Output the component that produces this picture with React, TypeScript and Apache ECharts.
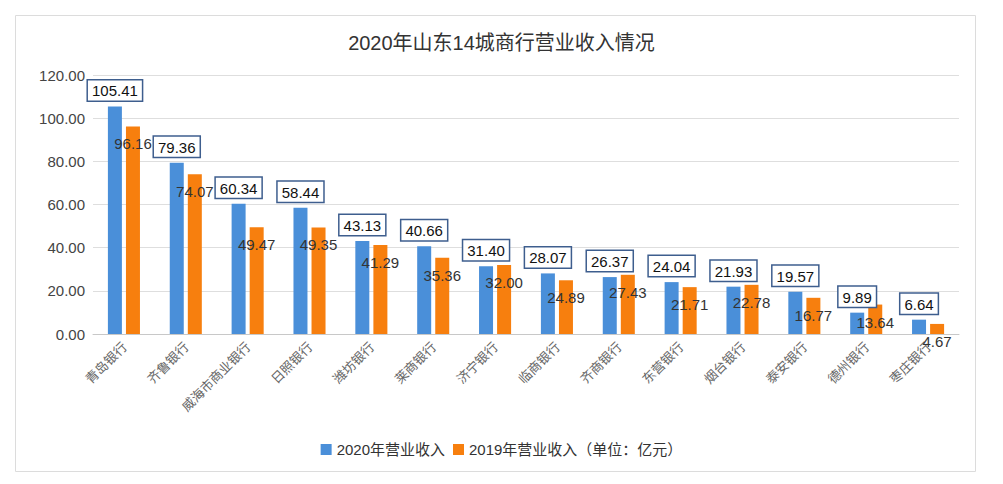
import React, { useEffect, useRef } from "react";
import * as echarts from "echarts";

const categories = [
  "青岛银行", "齐鲁银行", "威海市商业银行", "日照银行", "潍坊银行", "莱商银行", "济宁银行",
  "临商银行", "齐商银行", "东营银行", "烟台银行", "泰安银行", "德州银行", "枣庄银行",
];
const revenue2020 = [105.41, 79.36, 60.34, 58.44, 43.13, 40.66, 31.4, 28.07, 26.37, 24.04, 21.93, 19.57, 9.89, 6.64];
const revenue2019 = [96.16, 74.07, 49.47, 49.35, 41.29, 35.36, 32.0, 24.89, 27.43, 21.71, 22.78, 16.77, 13.64, 4.67];
const yTicks = { min: 0, max: 120, interval: 20 };

const FONT = "'Noto Sans CJK SC', 'Noto Sans', sans-serif";
const NUM = "'Liberation Sans', Arial, sans-serif";

export default function App() {
  const ref = useRef<HTMLDivElement>(null);
  useEffect(() => {
    const chart = echarts.init(ref.current!, null, { renderer: "svg" });
    chart.setOption({
      animation: false,
      backgroundColor: "#ffffff",
      textStyle: { fontFamily: FONT },
      title: {
        text: "2020年山东14城商行营业收入情况",
        left: "center",
        top: 28,
        textStyle: { fontSize: 20, fontWeight: "normal", color: "#333", fontFamily: "'Liberation Sans', 'Noto Sans CJK SC', sans-serif" },
      },
      graphic: [
        {
          type: "rect",
          shape: { x: 15.5, y: 15.5, width: 960, height: 456 },
          style: { fill: "none", stroke: "#dcdcdc", lineWidth: 1 },
          silent: true,
        },
      ],
      legend: {
        bottom: 22,
        left: "center",
        itemWidth: 11,
        itemHeight: 11,
        itemGap: 8,
        icon: "rect",
        textStyle: { fontSize: 15, color: "#333", fontFamily: "'Liberation Sans', 'Noto Sans CJK SC', sans-serif" },
        data: ["2020年营业收入", "2019年营业收入（单位：亿元）"],
      },
      grid: { left: 93, right: 44, top: 75, bottom: 150 },
      xAxis: {
        type: "category",
        data: categories,
        axisTick: { show: false },
        axisLine: { lineStyle: { color: "#c8c8c8" } },
        axisLabel: { rotate: 45, fontSize: 13, color: "#666", margin: 10, interval: 0, fontFamily: FONT },
      },
      yAxis: {
        type: "value",
        min: yTicks.min,
        max: yTicks.max,
        interval: yTicks.interval,
        axisLine: { show: false },
        axisTick: { show: false },
        splitLine: { lineStyle: { color: "#dedede" } },
        axisLabel: {
          fontSize: 15,
          color: "#444",
          margin: 8,
          fontFamily: NUM,
          formatter: (v: number) => v.toFixed(2),
        },
      },
      series: [
        {
          name: "2020年营业收入",
          type: "bar",
          data: revenue2020,
          barWidth: 14,
          barGap: "29%",
          itemStyle: { color: "#4a8fd9" },
          label: {
            show: true,
            position: "top",
            distance: 6,
            color: "#111",
            fontSize: 15,
            fontFamily: NUM,
            backgroundColor: "#fff",
            borderColor: "#3e5e8e",
            borderWidth: 1.5,
            padding: [3, 4, 2, 4],
            formatter: (p: any) => Number(p.value).toFixed(2),
          },
        },
        {
          name: "2019年营业收入（单位：亿元）",
          type: "bar",
          data: revenue2019,
          barWidth: 14,
          itemStyle: { color: "#f77f0e" },
          label: {
            show: true,
            position: "insideTop",
            offset: [0, 5],
            color: "#333",
            fontSize: 15,
            fontFamily: NUM,
            formatter: (p: any) => Number(p.value).toFixed(2),
          },
        },
      ],
    });
    return () => chart.dispose();
  }, []);
  return (
    <div
      ref={ref}
      style={{ position: "absolute", left: 0, top: 0, width: 1003, height: 484 }}
    />
  );
}
